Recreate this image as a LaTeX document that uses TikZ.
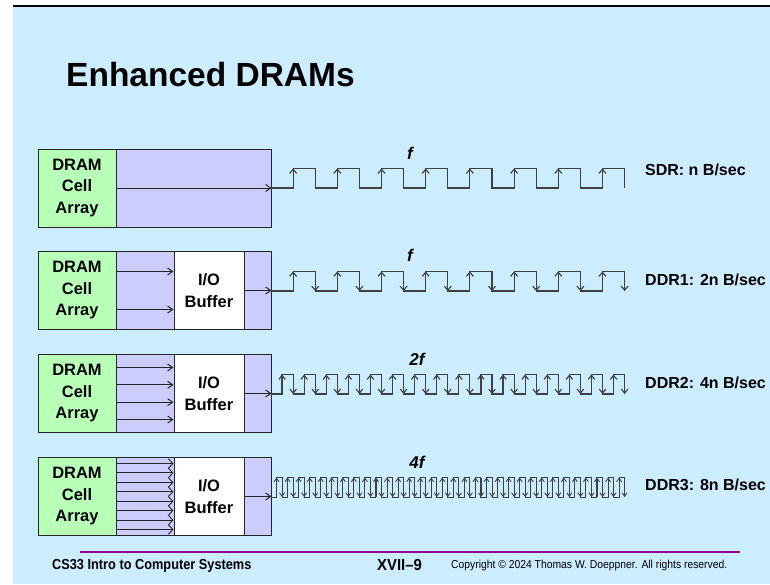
\documentclass[tikz,border=0pt]{standalone}
\usepackage{fontspec}
\setmainfont{Liberation Sans}
\usetikzlibrary{arrows.meta}
\definecolor{bgblue}{HTML}{CCECFF}
\definecolor{cellgreen}{HTML}{B8FFB8}
\definecolor{buflav}{HTML}{CCCCFF}
\definecolor{footpurple}{HTML}{990099}
\definecolor{wavegray}{HTML}{404040}
\begin{document}
\begin{tikzpicture}[x=1pt,y=-1pt,
  box/.style={draw=black!85, line width=1pt, inner sep=0pt, minimum height=78pt,
    font=\bfseries\fontsize{16.5}{21.5}\selectfont, align=center},
  dram/.style={box, fill=cellgreen, minimum width=78pt},
  lav/.style={box, fill=buflav},
  iobox/.style={box, fill=white, minimum width=70pt},
  wire/.style={draw=black!85, line width=1pt, -{Straight Barb[length=5pt,width=7pt]}},
  dwire/.style={draw=black!85, line width=0.9pt, -{Straight Barb[length=4.5pt,width=9.4pt]}},
  wave/.style={draw=wavegray, line width=1.15pt},
  rate/.style={anchor=west, inner sep=0pt, font=\bfseries\fontsize{16}{18}\selectfont},
  freq/.style={inner sep=0pt, font=\bfseries\itshape\fontsize{17}{19}\selectfont}
]
\useasboundingbox (0,0) rectangle (770,584);
\fill[white] (0,0) rectangle (770,584);
\fill[bgblue] (13,6) rectangle (770,584);
\draw[line width=1.5pt] (13,6) -- (770,6);

\node[anchor=west, inner sep=0pt, font=\bfseries\fontsize{33.5}{36}\selectfont] (title) at (66,75) {Enhanced DRAMs};

% ---------- Row 1: SDR ----------
\node[dram] (dram1) at (77,188) {DRAM\\Cell\\Array};
\node[lav, minimum width=155pt] (buf1) at (193.5,188) {};
\draw[wire] (dram1.east) -- (buf1.east);

% ---------- Row 2: DDR1 ----------
\node[dram] (dram2) at (77,290.5) {DRAM\\Cell\\Array};
\node[lav, minimum width=58pt] (mid2) at (145,290.5) {};
\node[iobox] (io2) at (209,290.5) {I/O\\Buffer};
\node[lav, minimum width=27pt] (out2) at (257.5,290.5) {};
\foreach \o in {-19,19}
  \draw[wire] ([yshift=-\o pt]dram2.east) -- ([yshift=-\o pt]io2.west);
\draw[wire] (io2.east) -- (out2.east);

% ---------- Row 3: DDR2 ----------
\node[dram] (dram3) at (77,393.5) {DRAM\\Cell\\Array};
\node[lav, minimum width=58pt] (mid3) at (145,393.5) {};
\node[iobox] (io3) at (209,393.5) {I/O\\Buffer};
\node[lav, minimum width=27pt] (out3) at (257.5,393.5) {};
\foreach \o in {-26,-8.7,8.7,26}
  \draw[wire] ([yshift=-\o pt]dram3.east) -- ([yshift=-\o pt]io3.west);
\draw[wire] (io3.east) -- (out3.east);

% ---------- Row 4: DDR3 ----------
\node[dram] (dram4) at (77,496.5) {DRAM\\Cell\\Array};
\node[lav, minimum width=58pt] (mid4) at (145,496.5) {};
\node[iobox] (io4) at (209,496.5) {I/O\\Buffer};
\node[lav, minimum width=27pt] (out4) at (257.5,496.5) {};
\foreach \o in {-33,-23.6,-14.1,-4.7,4.7,14.1,23.6,33}
  \draw[dwire] ([yshift=-\o pt]dram4.east) -- ([yshift=-\o pt]io4.west);
\draw[wire] (io4.east) -- (out4.east);

% ---------- Waveforms ----------
% SDR
\draw[wave] (271,188) \foreach \k in {1,...,8}{ -- ++(22.1,0) -- ++(0,-19.5) -- ++(22.1,0) -- ++(0,19.5)};
\foreach \k in {0,...,7}
  \draw[wave, -{Straight Barb[length=4pt,width=7pt]}] (271+22.1+44.2*\k,188) -- ++(0,-19.5);
% DDR1
\draw[wave] (271,291) \foreach \k in {1,...,8}{ -- ++(22.1,0) -- ++(0,-19.5) -- ++(22.1,0) -- ++(0,19.5)};
\foreach \k in {0,...,7}{
  \draw[wave, -{Straight Barb[length=4pt,width=7pt]}] (271+22.1+44.2*\k,291) -- ++(0,-19.5);
  \draw[wave, -{Straight Barb[length=4pt,width=7pt]}] (271+44.2+44.2*\k,271.5) -- ++(0,19.5);
}
% DDR2
\draw[wave] (271,394) \foreach \k in {1,...,16}{ -- ++(11.05,0) -- ++(0,-19.5) -- ++(11.05,0) -- ++(0,19.5)};
\foreach \k in {0,...,15}{
  \draw[wave, -{Straight Barb[length=4pt,width=6.5pt]}] (271+11.05+22.1*\k,394) -- ++(0,-19.5);
  \draw[wave, -{Straight Barb[length=4pt,width=6.5pt]}] (271+22.1+22.1*\k,374.5) -- ++(0,19.5);
}
% DDR3
\draw[wave, line width=1pt] (271,497) \foreach \k in {1,...,32}{ -- ++(5.525,0) -- ++(0,-19.5) -- ++(5.525,0) -- ++(0,19.5)};
\foreach \k in {0,...,31}{
  \draw[wave, line width=0.9pt, -{Straight Barb[length=3.5pt,width=5pt]}] (271+5.525+11.05*\k,497) -- ++(0,-19.5);
  \draw[wave, line width=0.9pt, -{Straight Barb[length=3.5pt,width=5pt]}] (271+11.05+11.05*\k,477.5) -- ++(0,19.5);
}

% ---------- Frequency labels ----------
\node[freq] (f1) at (410,153) {f};
\node[freq] (f2) at (410,255) {f};
\node[freq] (f3) at (417,359) {2f};
\node[freq] (f4) at (417,462) {4f};

% ---------- Rate labels ----------
\node[rate] (r1) at (645,170) {SDR: n B/sec};
\node[rate] (r2) at (645,280) {DDR1: 2n B/sec};
\node[rate] (r3) at (645,383) {DDR2: 4n B/sec};
\node[rate] (r4) at (645,485) {DDR3: 8n B/sec};

% ---------- Footer ----------
\draw[footpurple, line width=2pt] (80,552) -- (740,552);
\node[anchor=west, inner sep=0pt, xscale=0.88, font=\bfseries\fontsize{14.5}{16}\selectfont] (course) at (52,566) {CS33 Intro to Computer Systems};
\node[anchor=west, inner sep=0pt, xscale=0.93, font=\bfseries\fontsize{16}{18}\selectfont] (page) at (377,565) {XVII–9};
\node[anchor=west, inner sep=0pt, xscale=0.9, font=\fontsize{11.5}{13}\selectfont] (copy) at (451,566) {Copyright © 2024 Thomas W. Doeppner. All rights reserved.};
\end{tikzpicture}
\end{document}
